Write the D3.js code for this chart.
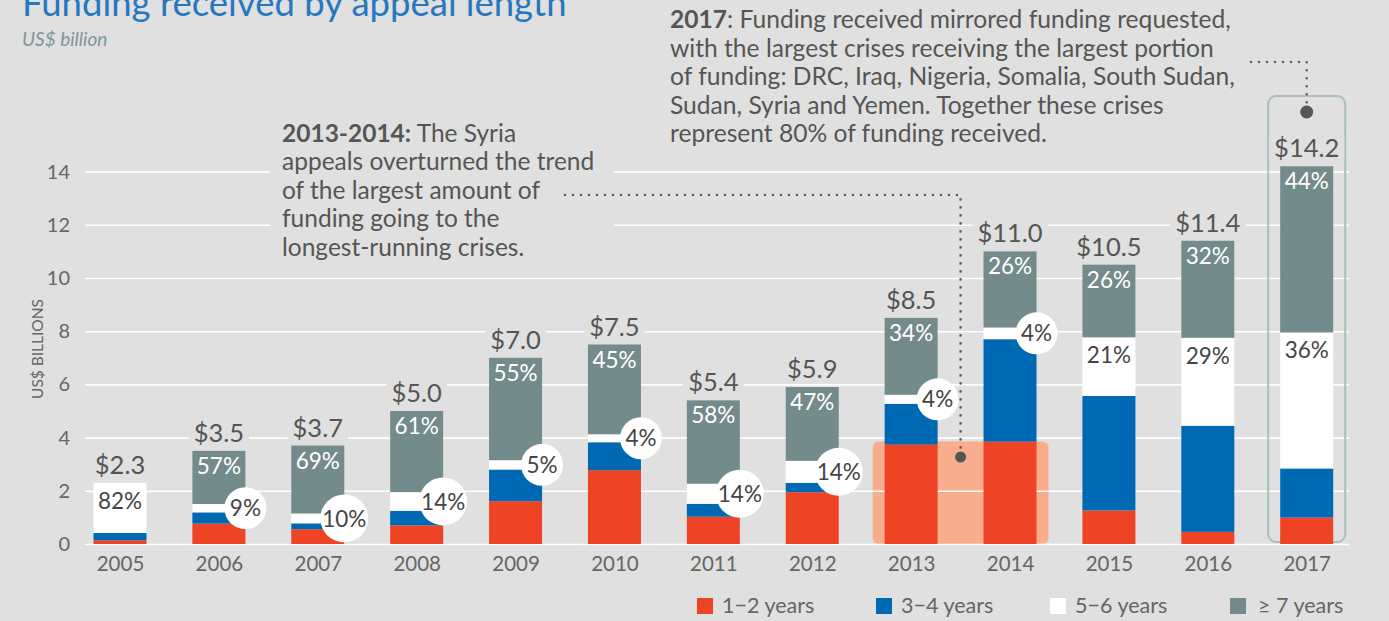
<!DOCTYPE html>
<html>
<head>
<meta charset="utf-8">
<script src="https://cdn.jsdelivr.net/npm/d3@7"></script>
<style>
  html, body { margin: 0; padding: 0; background: #dfe0df; }
  svg { display: block; font-family: Lato, "Noto Sans", sans-serif; }
</style>
</head>
<body>
<svg id="chart" width="1389" height="621"></svg>
<script>
// Funding received by appeal length, US$ billion
const years = [2005, 2006, 2007, 2008, 2009, 2010, 2011, 2012, 2013, 2014, 2015, 2016, 2017];
const totals = [2.3, 3.5, 3.7, 5.0, 7.0, 7.5, 5.4, 5.9, 8.5, 11.0, 10.5, 11.4, 14.2];
// share of each year's funding by appeal length, in percent
const share1to2 = [6, 22, 15, 14, 23, 37, 19, 33, 44, 35, 12, 4, 7];
const share3to4 = [12, 12, 6, 11, 17, 14, 9, 6, 18, 35, 41, 35, 13];
const share5to6 = [82, 9, 10, 14, 5, 4, 14, 14, 4, 4, 21, 29, 36];
const share7plus = [0, 57, 69, 61, 55, 45, 58, 47, 34, 26, 26, 32, 44];
const yTicks = [0, 2, 4, 6, 8, 10, 12, 14];
const legendLabels = ["1\u22122 years", "3\u22124 years", "5\u22126 years", "\u2265 7 years"];
const highlightYears = [2013, 2014];
const focusYear = 2017;

const keys = ["y12", "y34", "y56", "y7"];
const colors = { y12: "#ee4324", y34: "#0069b3", y56: "#ffffff", y7: "#748b8c" };
const BG = "#dfe0df";
const TEXT = "#555555";

const svg = d3.select("#chart");
svg.append("rect").attr("width", 1389).attr("height", 621).attr("fill", BG);

const rows = years.map((yr, i) => ({
  year: yr,
  total: totals[i],
  y12: totals[i] * share1to2[i] / 100,
  y34: totals[i] * share3to4[i] / 100,
  y56: totals[i] * share5to6[i] / 100,
  y7: totals[i] * share7plus[i] / 100,
  p56: share5to6[i],
  p7: share7plus[i]
}));
const series = d3.stack().keys(keys)(rows);

const x = d3.scalePoint().domain(years).range([120, 1306.7]);
const barW = 53;
const y = d3.scaleLinear().domain([0, 14]).range([544, 171.6]);

// Title
svg.append("text").attr("x", 22).attr("y", 16)
  .attr("font-size", 36.5).attr("fill", "#2677c0")
  .text("Funding received by appeal length");
svg.append("text").attr("x", 22).attr("y", 46)
  .attr("font-size", 19).attr("font-style", "italic").attr("fill", "#7f9799")
  .text("US$ billion");

// Highlight behind the 2013-2014 red bars
const hlTop = d3.max(rows.filter(r => highlightYears.includes(r.year)), r => r.y12);
svg.append("rect")
  .attr("x", x(2013) - barW / 2 - 12)
  .attr("y", y(hlTop))
  .attr("width", x(2014) - x(2013) + barW + 24)
  .attr("height", y(0) - y(hlTop))
  .attr("rx", 6)
  .attr("fill", "#f8ae8e");

// Gridlines and y axis
const yAxis = d3.axisLeft(y).tickValues(yTicks).tickSize(-(1349 - 85)).tickPadding(15);
const gy = svg.append("g").attr("transform", "translate(85,0)").call(yAxis);
gy.select(".domain").remove();
gy.selectAll(".tick line").attr("stroke", "#ffffff").attr("stroke-width", 1.6);
gy.selectAll(".tick text").attr("font-size", 20).attr("fill", "#666666")
  .attr("font-family", "Lato, sans-serif");

svg.append("text")
  .attr("transform", "translate(43,349) rotate(-90)")
  .attr("text-anchor", "middle")
  .attr("font-size", 15.5).attr("fill", "#666666")
  .text("US$ BILLIONS");

// Year labels
const gx = svg.append("g").attr("transform", "translate(0,544)")
  .call(d3.axisBottom(x).tickSize(0).tickPadding(0));
gx.select(".domain").remove();
gx.selectAll(".tick text").attr("font-size", 20.5).attr("fill", "#666666")
  .attr("font-family", "Lato, sans-serif").attr("dy", 0).attr("y", 27);

// Outline around 2017, drawn behind its bar
svg.append("rect")
  .attr("x", x(focusYear) - barW / 2 - 12)
  .attr("y", 96)
  .attr("width", barW + 24)
  .attr("height", 542 - 96)
  .attr("rx", 8)
  .attr("fill", "none")
  .attr("stroke", "#abbec0")
  .attr("stroke-width", 2);

// Stacked bars
svg.append("g").selectAll("g").data(series).join("g")
  .attr("fill", s => colors[s.key])
  .selectAll("rect").data(s => s).join("rect")
  .attr("x", d => x(d.data.year) - barW / 2)
  .attr("y", d => y(d[1]))
  .attr("width", barW)
  .attr("height", d => y(d[0]) - y(d[1]));

const s56 = series.find(s => s.key === "y56");
const s7 = series.find(s => s.key === "y7");

// Share of >= 7 years, white text at the top of the grey segment
svg.append("g").selectAll("text").data(s7.filter(d => d.data.p7 > 0)).join("text")
  .attr("x", d => x(d.data.year))
  .attr("y", d => y(d[1]) + 23)
  .attr("text-anchor", "middle")
  .attr("font-size", 22.5).attr("fill", "#ffffff")
  .text(d => d.data.p7 + "%");

// Share of 5-6 years: inside large segments, in a circle otherwise
const inside = s56.filter(d => d.data.p56 >= 20);
const bubbles = s56.filter(d => d.data.p56 < 20);
svg.append("g").selectAll("text").data(inside).join("text")
  .attr("x", d => x(d.data.year))
  .attr("y", d => y(d[1]) + 26)
  .attr("text-anchor", "middle")
  .attr("font-size", 22.5).attr("fill", "#454545")
  .text(d => d.data.p56 + "%");

const bg = svg.append("g").selectAll("g").data(bubbles).join("g")
  .attr("transform", d => `translate(${x(d.data.year) + barW / 2},${y((d[0] + d[1]) / 2)})`);
bg.append("circle")
  .attr("r", d => (String(d.data.p56).length > 1 ? 24 : 21))
  .attr("fill", "#ffffff");
bg.append("text")
  .attr("text-anchor", "middle").attr("dy", "0.36em")
  .attr("font-size", 22.5).attr("fill", "#454545")
  .text(d => d.data.p56 + "%");

// Totals above each bar, on a background patch that breaks the gridline
const tg = svg.append("g").selectAll("g").data(rows).join("g");
const totText = tg.append("text")
  .attr("x", d => x(d.year))
  .attr("y", d => y(d.total) - 9)
  .attr("text-anchor", "middle")
  .attr("font-size", 25.5).attr("fill", TEXT)
  .text(d => "$" + d.total.toFixed(1));
totText.each(function () {
  const b = this.getBBox();
  d3.select(this.parentNode).insert("rect", "text")
    .attr("x", b.x - 5).attr("y", b.y + 2)
    .attr("width", b.width + 10).attr("height", b.height - 4)
    .attr("fill", BG);
});

// Annotation: 2013-2014
const ann1 = [
  [["2013-2014:", true], [" The Syria", false]],
  [["appeals overturned the trend", false]],
  [["of the largest amount of", false]],
  [["funding going to the", false]],
  [["longest-running crises.", false]]
];
svg.append("rect").attr("x", 270).attr("y", 116).attr("width", 344).attr("height", 148).attr("fill", BG);

function writeLines(lines, x0, y0, lh, size) {
  const t = svg.append("text").attr("font-size", size).attr("fill", TEXT);
  lines.forEach((parts, i) => {
    parts.forEach(([str, bold], j) => {
      const ts = t.append("tspan").text(str).attr("font-weight", bold ? 700 : 400);
      if (j === 0) ts.attr("x", x0).attr("y", y0 + i * lh);
    });
  });
}
writeLines(ann1, 282, 142, 28.4, 24.5);

const dotted = (pts) => svg.append("path")
  .attr("d", d3.line()(pts))
  .attr("fill", "none").attr("stroke", "#606060")
  .attr("stroke-width", 2.6).attr("stroke-linecap", "round")
  .attr("stroke-dasharray", "0 8");

const mid1314 = (x(2013) + x(2014)) / 2;
dotted([[565, 195], [mid1314, 195], [mid1314, 457]]);
svg.append("circle").attr("cx", mid1314).attr("cy", 457).attr("r", 5.5).attr("fill", "#555555");

// Annotation: 2017
const ann2 = [
  [["2017", true], [": Funding received mirrored funding requested,", false]],
  [["with the largest crises receiving the largest portion", false]],
  [["of funding: DRC, Iraq, Nigeria, Somalia, South Sudan,", false]],
  [["Sudan, Syria and Yemen. Together these crises", false]],
  [["represent 80% of funding received.", false]]
];
writeLines(ann2, 670, 28, 28.5, 24.6);
dotted([[1251, 62], [x(focusYear), 62], [x(focusYear), 112]]);
svg.append("circle").attr("cx", x(focusYear)).attr("cy", 112).attr("r", 6.5).attr("fill", "#555555");

// Legend
const lx = [697, 876, 1050, 1230];
const lg = svg.append("g").selectAll("g").data(keys).join("g")
  .attr("transform", (k, i) => `translate(${lx[i]},598)`);
lg.append("rect").attr("width", 16).attr("height", 16).attr("fill", k => colors[k]);
lg.append("text").attr("x", (k, i) => (i === 3 ? 28 : 25)).attr("y", 15)
  .attr("font-size", 21.5).attr("fill", "#666666")
  .text((k, i) => legendLabels[i]);
</script>
</body>
</html>
